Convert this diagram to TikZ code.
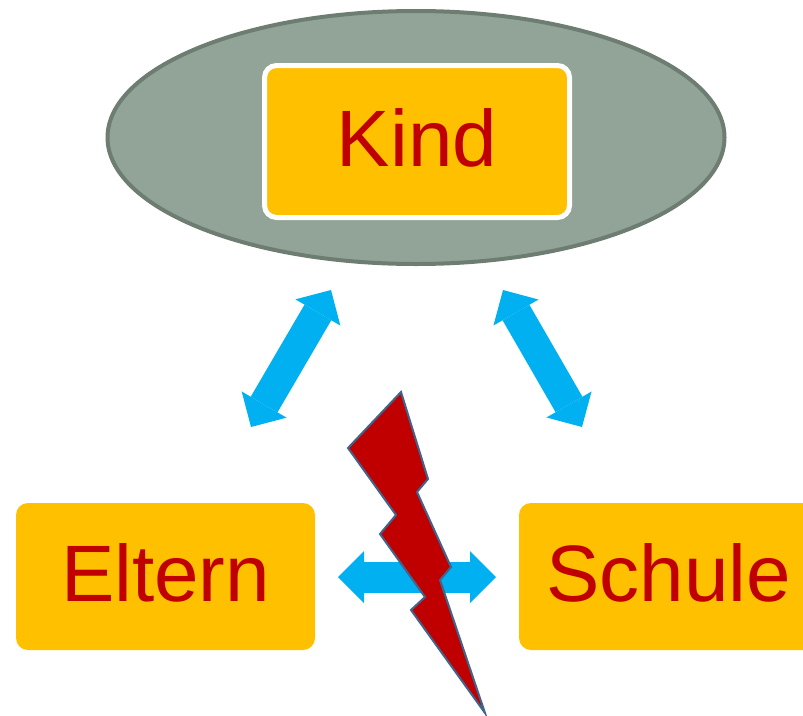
\documentclass[tikz,border=0pt]{standalone}
\usepackage{fontspec}
\setmainfont{Liberation Sans}
\usetikzlibrary{arrows.meta,shapes.geometric}
\definecolor{boxfill}{RGB}{255,192,0}
\definecolor{txtred}{RGB}{192,0,0}
\definecolor{arrblue}{RGB}{0,176,240}
\definecolor{ellfill}{RGB}{146,163,151}
\definecolor{elldraw}{RGB}{110,125,114}
\definecolor{boltedge}{RGB}{65,100,140}
\tikzset{
  rolebox/.style={rectangle, rounded corners=12pt, fill=boxfill, text=txtred,
    minimum width=299pt, minimum height=147pt, inner sep=0pt, text depth=8pt,
    font=\fontsize{80}{96}\selectfont},
  dblarrow/.style={draw=arrblue, line width=31pt,
    {Triangle[length=26pt,width=52pt,line width=0pt]}-{Triangle[length=26pt,width=52pt,line width=0pt]}},
  bolt/.style={fill=txtred, draw=boltedge, line width=2pt, line join=miter}
}
\begin{document}
\begin{tikzpicture}[x=1pt,y=-1pt]
\useasboundingbox (0,0) rectangle (803,715);
\clip (0,0) rectangle (803,715);
% ellipse
\node (ell) [ellipse, fill=ellfill, draw=elldraw, line width=4pt,
  minimum width=617pt, minimum height=253pt, inner sep=0pt] at (416,137.5) {};
% Kind
\node (kind) [rolebox, draw=white, line width=5pt, minimum width=305pt, minimum height=152pt]
  at (417,141.5) {Kind};
% Eltern and Schule
\node (eltern) [rolebox] at (165.5,576.5) {Eltern};
\node (schule) [rolebox] at (668.5,576.5) {Schule};
% arrow end points
\coordinate (a1) at (331,290);
\coordinate (a2) at (251,427);
\coordinate (b1) at (503,290);
\coordinate (b2) at (582,427);
\coordinate (c1) at (338,577);
\coordinate (c2) at (496,577);
\draw[dblarrow] (a2) -- (a1);
\draw[dblarrow] (b1) -- (b2);
\draw[dblarrow] (c1) -- (c2);
% lightning bolt
\draw[bolt] (401,392) -- (348,448) -- (396,515) -- (380,534) -- (425,597)
  -- (411,610) -- (485,713) -- (440,580) -- (451,567) -- (417,492)
  -- (428,479) -- cycle;
\end{tikzpicture}
\end{document}
